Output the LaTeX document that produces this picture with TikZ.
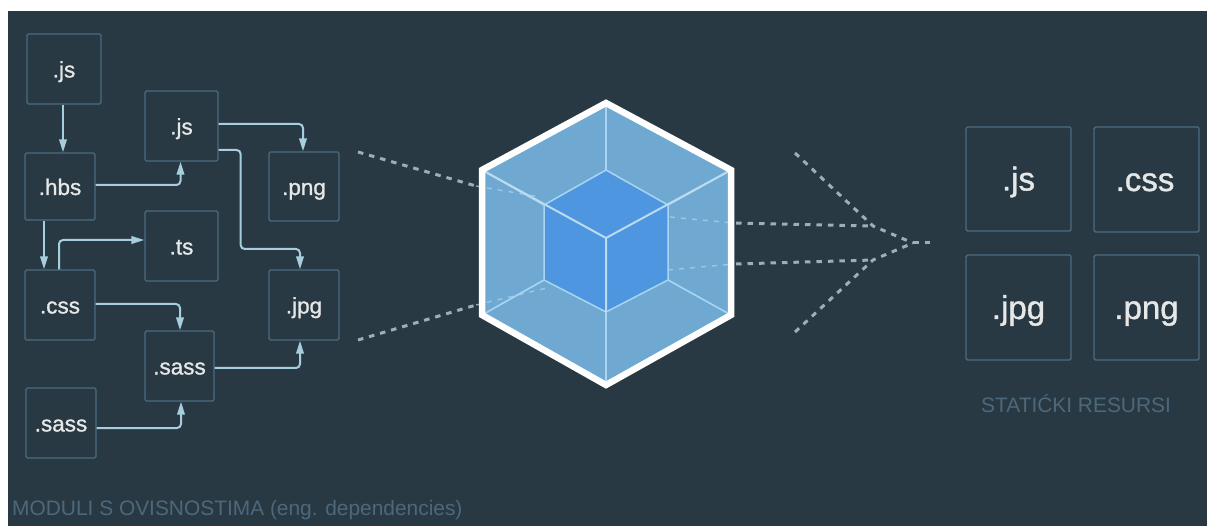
\documentclass[tikz,border=0pt]{standalone}
\usepackage{fontspec}
\setmainfont{Liberation Sans}
\newfontfamily\semifont[FakeBold=1.1]{Liberation Sans}
\usetikzlibrary{arrows.meta}
\definecolor{bgc}{HTML}{293943}
\definecolor{boxc}{HTML}{4A6B7E}
\definecolor{connc}{HTML}{A6CEDE}
\definecolor{txtc}{HTML}{E6E8E8}
\definecolor{capc}{HTML}{4C687B}
\definecolor{facec}{HTML}{6FA9D2}
\definecolor{corec}{HTML}{4E96DF}
\definecolor{edgec}{HTML}{A9D5F2}
\definecolor{dashc}{HTML}{9DAEB4}
\tikzset{
  x=1pt,y=-1pt,
  modbox/.style={draw=boxc,line width=1.3pt,rounded corners=1.5pt,inner sep=0pt,text=txtc,text height=17pt,text depth=0pt,font=\semifont\fontsize{22.5}{22.5}\selectfont},
  bigbox/.style={modbox,line width=1.4pt,text height=23pt,text depth=0pt,font=\semifont\fontsize{33}{33}\selectfont},
  conn/.style={draw=connc,line width=2pt,rounded corners=4pt,-{Triangle[length=13pt,width=7.5pt]}},
  dashline/.style={draw=dashc,line width=3pt,dash pattern=on 5.5pt off 6pt},
  faintdash/.style={draw=edgec,line width=1.3pt,dash pattern=on 5pt off 6pt,opacity=.75},
  caption/.style={text=capc,anchor=west,inner sep=0pt},
}
\begin{document}
\begin{tikzpicture}
\useasboundingbox (0,0) rectangle (1207,526);
\fill[white] (0,0) rectangle (1207,526);
\fill[bgc] (8,11) rectangle (1207,526);
% left modules
\node[modbox,minimum width=74pt,minimum height=70pt] (jsa) at (64,69) {.js};
\node[modbox,minimum width=70pt,minimum height=67pt] (hbs) at (60,186.5) {.hbs};
\node[modbox,minimum width=73pt,minimum height=70pt] (jsb) at (181.5,126) {.js};
\node[modbox,minimum width=70pt,minimum height=69pt] (pnga) at (304,186.5) {.png};
\node[modbox,minimum width=73pt,minimum height=70pt] (ts) at (181.5,246) {.ts};
\node[modbox,minimum width=70pt,minimum height=70pt] (cssa) at (60,305) {.css};
\node[modbox,minimum width=70pt,minimum height=70pt] (jpga) at (304,305) {.jpg};
\node[modbox,minimum width=69pt,minimum height=70pt] (sassa) at (179.5,366) {.sass};
\node[modbox,minimum width=70pt,minimum height=70pt] (sassb) at (61,423) {.sass};
% connectors
\draw[conn] ([xshift=-1pt]jsa.south) -- ([xshift=3pt]hbs.north);
\draw[conn] ([yshift=1.5pt]hbs.east) -| ([xshift=-1pt]jsb.south);
\draw[conn] ([yshift=2pt]jsb.east) -| ([xshift=-1pt]pnga.north);
\draw[conn] ([yshift=-24pt]jsb.east) -- ++(22,0) |- ++(20,99) -| ([xshift=-4pt]jpga.north);
\draw[conn] ([xshift=-16pt]hbs.south) -- ([xshift=-16pt]cssa.north);
\draw[conn] ([xshift=-1pt]cssa.north) |- ([yshift=6pt]ts.west);
\draw[conn] ([yshift=1pt]cssa.east) -| ([xshift=0.5pt]sassa.north);
\draw[conn] ([yshift=-2pt]sassa.east) -| ([xshift=-4pt]jpga.south);
\draw[conn] ([yshift=-5pt]sassb.east) -| ([xshift=1.5pt]sassa.south);
% dashed lines left
\coordinate (la) at (358,152);
\coordinate (lb) at (358,340);
\coordinate (lae) at (476,186);
\coordinate (lbe) at (476,305);
\coordinate (hub) at (913,243);
\draw[dashline] (la) -- (lae);
\draw[dashline] (lb) -- (lbe);
% hexagon
\coordinate (ht) at (606,103);
\coordinate (hur) at (731,170);
\coordinate (hlr) at (731,315);
\coordinate (hb) at (606,385);
\coordinate (hll) at (482,315);
\coordinate (hul) at (482,170);
\coordinate (ct) at (606,170);
\coordinate (cur) at (668,205);
\coordinate (clr) at (668,280);
\coordinate (cb) at (606,312);
\coordinate (cll) at (544,280);
\coordinate (cul) at (544,205);
\coordinate (cc) at (606,238);
\fill[facec] (ht) -- (hur) -- (hlr) -- (hb) -- (hll) -- (hul) -- cycle;
\fill[corec] (ct) -- (cur) -- (clr) -- (cb) -- (cll) -- (cul) -- cycle;
\draw[edgec,line width=1.5pt,line join=round] (ct) -- (cur) -- (clr) -- (cb) -- (cll) -- (cul) -- cycle;
\draw[edgec,line width=1.6pt] (ht) -- (ct) (hur) -- (cur) (hul) -- (cul) (hll) -- (cll) (hlr) -- (clr) (hb) -- (cb);
\draw[txtc!30!edgec,line width=2pt] (hul) -- (cc) -- (hur) (cc) -- (cb);
\draw[faintdash] (lae) -- (540,197);
\draw[faintdash] (lbe) -- (547,288);
\draw[faintdash] (670,217) -- (734,223);
\draw[faintdash] (668,270) -- (734,264);
\draw[white,line width=6.5pt,line join=miter] (ht) -- (hur) -- (hlr) -- (hb) -- (hll) -- (hul) -- cycle;
% dashed lines right
\coordinate (rta) at (736,223);
\coordinate (rma) at (736,264);
\coordinate (ka) at (873,226);
\coordinate (kb) at (873,260);
\coordinate (da) at (795,153);
\coordinate (db) at (795,332);
\coordinate (tipd) at (934,243);
\draw[dashline] (rta) -- (ka);
\draw[dashline] (rma) -- (kb);
\draw[dashline] (da) -- (ka) -- (hub);
\draw[dashline] (db) -- (kb) -- (hub);
\draw[dashline] (hub) -- (tipd);
% right resources
\node[bigbox,minimum width=105pt,minimum height=104pt] (jsc) at (1018.5,179) {.js};
\node[bigbox,minimum width=105pt,minimum height=105pt] (cssc) at (1146.5,179.5) {\hspace*{-3pt}.css};
\node[bigbox,minimum width=105pt,minimum height=105pt] (jpgc) at (1018.5,307.5) {.jpg};
\node[bigbox,minimum width=105pt,minimum height=105pt] (pngc) at (1146.5,307.5) {.png};
% captions
\node[caption,font=\fontsize{20.9}{21}\selectfont] (capa) at (12,510) {MODULI S OVISNOSTIMA (eng. dependencies)};
\node[caption,font=\fontsize{20.9}{21}\selectfont] (capb) at (981,404) {STATIĆKI RESURSI};
\end{tikzpicture}
\end{document}
